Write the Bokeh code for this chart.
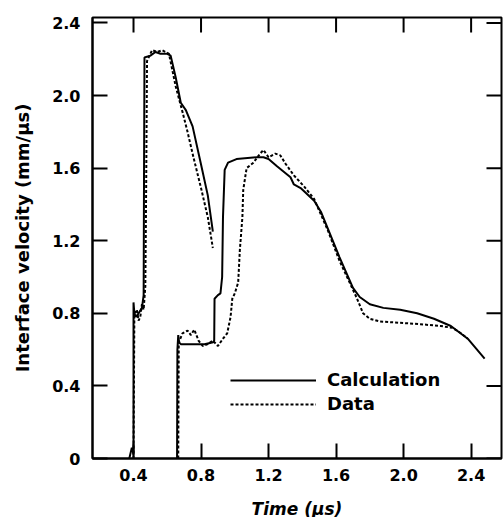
import math
from bokeh.plotting import figure
from bokeh.models import (LinearAxis, FixedTicker, Legend, LegendItem, Range1d,
                          NumeralTickFormatter)
from bokeh.embed import file_html
from bokeh.resources import INLINE

# ---------------- data ----------------
calc1_t = [0.375, 0.39, 0.40, 0.40, 0.405, 0.415, 0.43, 0.45, 0.46, 0.462, 0.465,
           0.50, 0.53, 0.56, 0.60, 0.62, 0.65, 0.68, 0.71, 0.75, 0.80, 0.84, 0.87]
calc1_v = [0.0, 0.06, 0.02, 0.86, 0.80, 0.78, 0.80, 0.83, 0.90, 1.50, 2.21,
           2.22, 2.24, 2.23, 2.23, 2.22, 2.10, 1.96, 1.92, 1.83, 1.62, 1.45, 1.25]

calc2_t = [0.658, 0.66, 0.665, 0.67, 0.68, 0.75, 0.82, 0.872, 0.878, 0.88, 0.90,
           0.915, 0.925, 0.93, 0.94, 0.96, 1.01, 1.13, 1.17, 1.20, 1.25, 1.33,
           1.35, 1.39, 1.47, 1.51, 1.55, 1.62, 1.70, 1.74, 1.80, 1.88, 1.98,
           2.08, 2.18, 2.28, 2.38, 2.48]
calc2_v = [0.0, 0.60, 0.68, 0.64, 0.63, 0.63, 0.63, 0.64, 0.65, 0.88, 0.90,
           0.91, 1.00, 1.33, 1.59, 1.63, 1.65, 1.66, 1.66, 1.65, 1.61, 1.55,
           1.51, 1.49, 1.42, 1.36, 1.27, 1.11, 0.94, 0.89, 0.85, 0.83, 0.82,
           0.80, 0.77, 0.73, 0.66, 0.55]

data1_t = [0.40, 0.405, 0.42, 0.43, 0.44, 0.45, 0.46, 0.47, 0.475, 0.48, 0.51,
           0.54, 0.57, 0.61, 0.65, 0.69, 0.72, 0.755, 0.80, 0.84, 0.87]
data1_v = [0.0, 0.80, 0.82, 0.76, 0.78, 0.85, 0.82, 0.95, 1.50, 2.19, 2.25,
           2.24, 2.25, 2.23, 2.05, 1.91, 1.80, 1.66, 1.49, 1.33, 1.16]

data2_t = [0.665, 0.668, 0.69, 0.72, 0.74, 0.76, 0.785, 0.81, 0.84, 0.87, 0.90,
           0.93, 0.955, 0.975, 0.985, 1.00, 1.02, 1.03, 1.045, 1.05, 1.07, 1.11,
           1.15, 1.17, 1.20, 1.24, 1.27, 1.30, 1.35, 1.41, 1.47, 1.55, 1.62,
           1.72, 1.76, 1.80, 1.86, 1.94, 2.10, 2.22, 2.29, 2.34, 2.38]
data2_v = [0.0, 0.64, 0.69, 0.705, 0.68, 0.71, 0.65, 0.62, 0.63, 0.65, 0.62,
           0.66, 0.69, 0.78, 0.88, 0.91, 0.97, 1.15, 1.33, 1.48, 1.60, 1.63,
           1.68, 1.70, 1.66, 1.68, 1.67, 1.625, 1.56, 1.50, 1.43, 1.26, 1.09,
           0.89, 0.80, 0.77, 0.755, 0.75, 0.74, 0.73, 0.72, 0.69, 0.66]

x_ticks = [0.4, 0.8, 1.2, 1.6, 2.0, 2.4]
y_ticks = [0.0, 0.4, 0.8, 1.2, 1.6, 2.0, 2.4]
y_tick_labels = {0: "0"}
labels = ["Calculation", "Data"]
x_title = "Time (\u03bcs)"
y_title = "Interface velocity (mm/\u03bcs)"

X_MIN, X_MAX = 0.157, 2.58
Y_MIN, Y_MAX = 0.0, 2.43

FONT = "DejaVu Sans"

p = figure(frame_width=409, frame_height=441, output_backend="svg",
           toolbar_location=None, x_axis_location=None, y_axis_location=None,
           min_border_left=92, min_border_right=2, min_border_top=17,
           min_border_bottom=59,
           x_range=Range1d(X_MIN, X_MAX), y_range=Range1d(Y_MIN, Y_MAX))
p.xgrid.visible = False
p.ygrid.visible = False
p.outline_line_color = "black"
p.outline_line_width = 2
p.background_fill_color = "white"
p.border_fill_color = "white"


def style_axis(ax):
    ax.major_tick_in = 15
    ax.major_tick_out = 0
    ax.minor_tick_in = 0
    ax.minor_tick_out = 0
    ax.major_tick_line_width = 2
    ax.major_tick_line_color = "black"
    ax.axis_line_color = "black"
    ax.axis_line_width = 2
    ax.major_label_text_font = FONT
    ax.major_label_text_font_style = "bold"
    ax.major_label_text_font_size = "16px"
    ax.major_label_text_color = "black"
    ax.axis_label_text_font = FONT
    ax.axis_label_text_color = "black"


xb = LinearAxis(ticker=FixedTicker(ticks=x_ticks),
                formatter=NumeralTickFormatter(format="0.0"))
style_axis(xb)
xb.major_label_standoff = 10
xb.axis_label = x_title
xb.axis_label_text_font_style = "bold italic"
xb.axis_label_text_font_size = "17px"
xb.axis_label_standoff = 15
p.add_layout(xb, "below")

yl = LinearAxis(ticker=FixedTicker(ticks=y_ticks),
                formatter=NumeralTickFormatter(format="0.0"),
                major_label_overrides=y_tick_labels)
style_axis(yl)
yl.major_label_standoff = 12
yl.axis_label = y_title
yl.axis_label_text_font_style = "bold"
yl.axis_label_text_font_size = "18px"
yl.axis_label_standoff = 16
p.add_layout(yl, "left")

# inward ticks on the top and right frame edges (no labels there)
p.ray(x=x_ticks, y=[Y_MAX] * len(x_ticks), length=15, length_units="screen",
      angle=-math.pi / 2, line_color="black", line_width=2)
p.ray(x=[X_MAX] * len(y_ticks), y=y_ticks, length=15, length_units="screen",
      angle=math.pi, line_color="black", line_width=2)

c1 = p.line(calc1_t, calc1_v, line_color="black", line_width=2)
c2 = p.line(calc2_t, calc2_v, line_color="black", line_width=2)
d1 = p.line(data1_t, data1_v, line_color="black", line_width=2, line_dash="3 2")
d2 = p.line(data2_t, data2_v, line_color="black", line_width=2, line_dash="3 2")

leg = Legend(items=[LegendItem(label=labels[0], renderers=[c1]),
                    LegendItem(label=labels[1], renderers=[d1])],
             location=(138, 44), orientation="vertical",
             glyph_width=86, glyph_height=20, label_standoff=11, spacing=3,
             padding=0, margin=0, border_line_color=None,
             background_fill_alpha=0,
             label_text_font=FONT, label_text_font_style="bold",
             label_text_font_size="18px", label_text_color="black")
p.add_layout(leg, "center")

open("out.html", "w").write(file_html(p, INLINE))
